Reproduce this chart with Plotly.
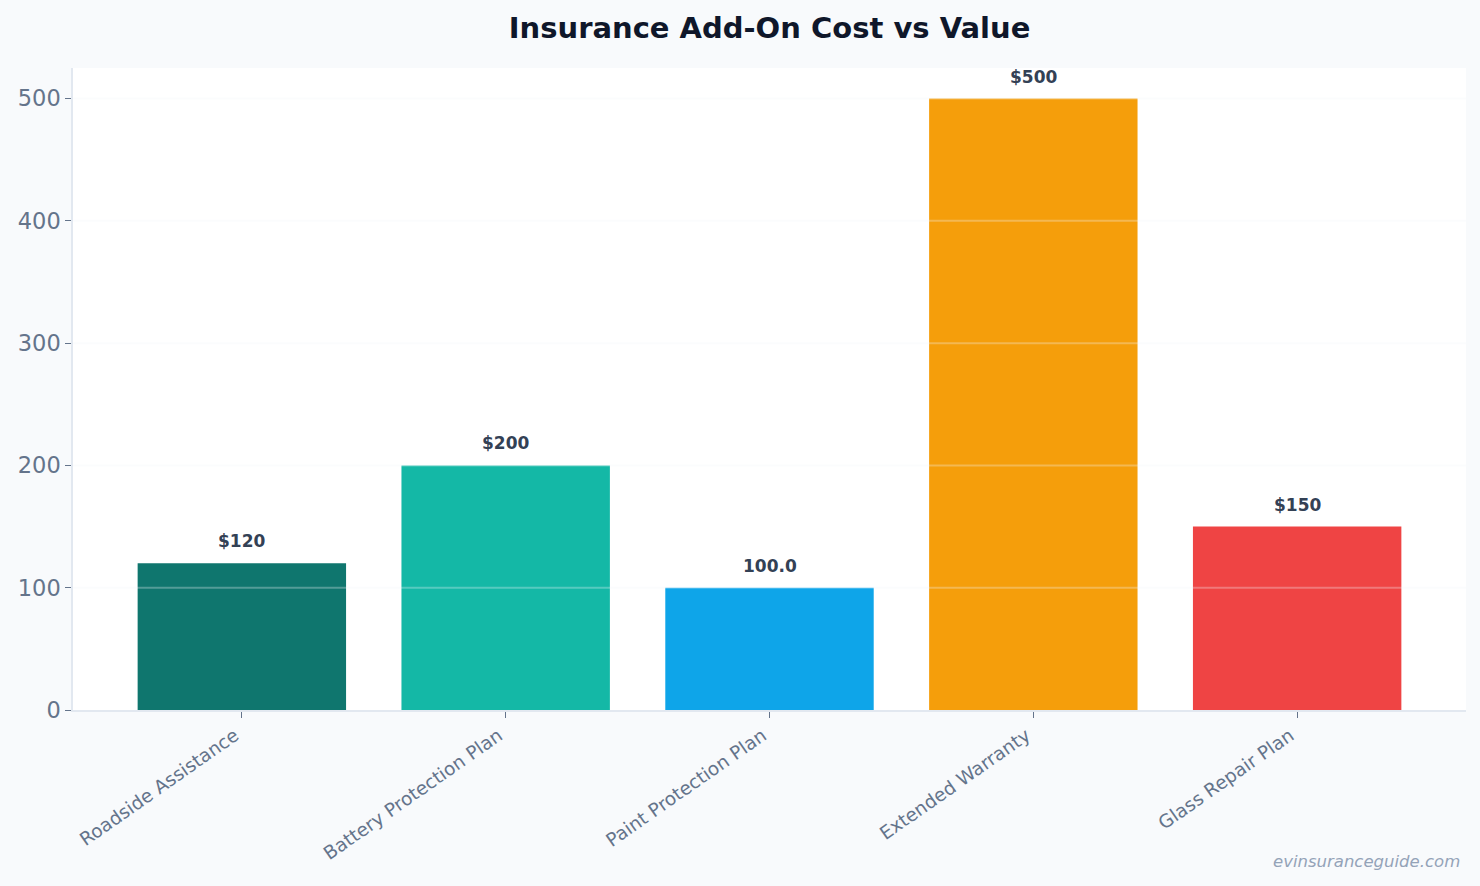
import plotly.graph_objects as go

categories = ["Roadside Assistance", "Battery Protection Plan", "Paint Protection Plan",
              "Extended Warranty", "Glass Repair Plan"]
costs = [120, 200, 100, 500, 150]
labels = ["$120", "$200", "100.0", "$500", "$150"]
colors = ["#0f766e", "#14b8a6", "#0ea5e9", "#f59e0b", "#ef4444"]
y_ticks = [0, 100, 200, 300, 400, 500]

fig = go.Figure(go.Bar(
    x=categories, y=costs, marker_color=colors, marker_line_width=0,
    width=0.79, hoverinfo="x+y",
))

annotations = [dict(x=c, y=v, text="<b>%s</b>" % t, xref="x", yref="y", showarrow=False,
                    yanchor="bottom", yshift=10,
                    font=dict(family="DejaVu Sans", size=17, color="#334155"))
               for c, v, t in zip(categories, costs, labels)]
annotations.append(dict(text="<i>evinsuranceguide.com</i>", xref="paper", yref="paper",
                        x=0.997, y=-0.236, xanchor="right", yanchor="middle", showarrow=False,
                        font=dict(family="DejaVu Sans", size=16.5, color="#94a3b8")))

shapes = [dict(type="line", xref="paper", yref="y", x0=0, x1=1, y0=t, y1=t, layer="above",
               line=dict(color="rgba(241,245,249,0.3)", width=2))
          for t in y_ticks[1:]]

fig.update_layout(
    width=1480, height=886,
    paper_bgcolor="#f8fafc", plot_bgcolor="#ffffff",
    margin=dict(l=73, r=14, t=68, b=176),
    font=dict(family="DejaVu Sans", color="#64748b"),
    title=dict(text="<b>Insurance Add-On Cost vs Value</b>", x=0.52, xanchor="center",
               y=0.969, yanchor="middle",
               font=dict(family="DejaVu Sans", size=29, color="#0f172a")),
    showlegend=False,
    xaxis=dict(range=[-0.64, 4.64], tickangle=-35, tickfont=dict(size=18.5, color="#64748b"),
               ticklabelshift=-7,
               showline=True, linecolor="#e2e8f0", linewidth=1.5,
               ticks="outside", ticklen=6, tickcolor="#64748b", showgrid=False),
    yaxis=dict(range=[0, 525], tickvals=y_ticks,
               tickfont=dict(size=22.5, color="#64748b"),
               showline=True, linecolor="#e2e8f0", linewidth=1.5,
               ticks="outside", ticklen=6, tickcolor="#64748b",
               showgrid=False, zeroline=False),
    annotations=annotations,
    shapes=shapes,
)

fig.write_html("out.html")
